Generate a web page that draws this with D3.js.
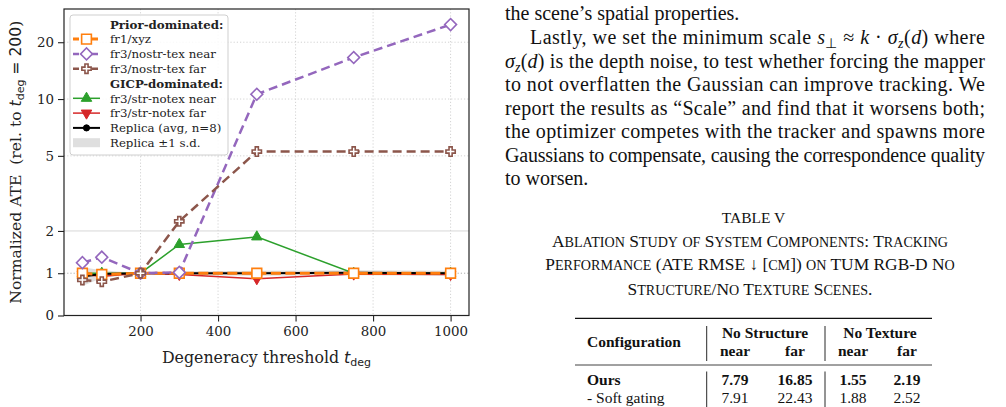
<!DOCTYPE html>
<html>
<head>
<meta charset="utf-8">
<script src="https://cdn.jsdelivr.net/npm/d3@7"></script>
<style>
  html, body { margin: 0; padding: 0; background: #fff; }
  svg { display: block; }
  .serif { font-family: "DejaVu Serif", serif; }
  .times { font-family: "Liberation Serif", "Times New Roman", serif; fill: #111; }
</style>
</head>
<body>
<svg id="page" width="1006" height="407"></svg>
<script>

// ---- data ----
var thresholds = [50, 100, 200, 300, 500, 750, 1000];
var xyz        = [1.00, 0.97, 1.00, 1.00, 1.00, 1.00, 1.00];
var nostrNear  = [1.25, 1.38, 1.00, 1.02, 10.6, 16.6, 24.8];
var nostrFar   = [0.84, 0.80, 1.00, 2.25, 5.27, 5.27, 5.27];
var strNear    = [1.00, 1.00, 1.00, 1.68, 1.86, 1.00, 1.00];
var strFar     = [0.97, 0.93, 1.00, 0.97, 0.87, 0.98, 0.97];
var replicaAvg = [0.92, 0.98, 1.00, 1.00, 1.00, 1.01, 1.00];
var replicaSd  = [0.22, 0.09, 0.00, 0.04, 0.06, 0.06, 0.06];

var xTicks = [200, 400, 600, 800, 1000];
var yTicks = [0, 1, 2, 5, 10, 20];

var svg = d3.select("#page");

// ---- scales ----
var margin = {left: 64, top: 9, right: 469, bottom: 315.5};

var x = d3.scaleLinear().domain([2.5, 1047.5]).range([margin.left, margin.right]);

// symlog-like: linear below 2, log above
var LINTHRESH = 2, LINSPAN = 0.448;
function symT(v){ return v <= LINTHRESH ? LINSPAN * v / LINTHRESH : LINSPAN + Math.log10(v / LINTHRESH); }
var yT = d3.scaleLinear().domain([0, symT(30)]).range([margin.bottom, margin.top]);
function y(v){ return yT(symT(v)); }

var chart = svg.append("g").attr("class", "serif");

// ---- grid ----
chart.selectAll(".vgrid").data(xTicks).enter().append("line")
  .attr("x1", function(d){ return x(d); }).attr("x2", function(d){ return x(d); })
  .attr("y1", margin.top).attr("y2", margin.bottom)
  .attr("stroke", "#c8c8c8").attr("stroke-width", 0.8).attr("stroke-dasharray", "1.2,2");

chart.selectAll(".hgrid").data([1, 5, 10, 20]).enter().append("line")
  .attr("x1", margin.left).attr("x2", margin.right)
  .attr("y1", function(d){ return y(d); }).attr("y2", function(d){ return y(d); })
  .attr("stroke", function(d){ return d == 1 ? "#999" : "#c8c8c8"; })
  .attr("stroke-width", 0.8).attr("stroke-dasharray", "1.2,2");

chart.append("line")
  .attr("x1", margin.left).attr("x2", margin.right)
  .attr("y1", y(2)).attr("y2", y(2))
  .attr("stroke", "#d4d4d4").attr("stroke-width", 0.9);

// ---- series ----
function pts(vals){
  return thresholds.map(function(t, i){ return {x: t, v: vals[i]}; });
}

var line = d3.line().x(function(d){ return x(d.x); }).y(function(d){ return y(d.v); });

var band = d3.area()
  .x(function(d, i){ return x(thresholds[i]); })
  .y0(function(d, i){ return y(replicaAvg[i] - replicaSd[i]); })
  .y1(function(d, i){ return y(replicaAvg[i] + replicaSd[i]); });

chart.append("path").datum(replicaAvg).attr("d", band)
  .attr("fill", "#b8b8b8").attr("fill-opacity", 0.45);

var series = [
  {name: "fr3/str-notex far",  vals: strFar,     color: "#d62728", width: 1.5, dash: null,  marker: "tridown"},
  {name: "fr3/str-notex near", vals: strNear,    color: "#2ca02c", width: 1.5, dash: null,  marker: "triup"},
  {name: "Replica (avg, n=8)", vals: replicaAvg, color: "#000",    width: 2,   dash: null,  marker: "circle"},
  {name: "fr1/xyz",            vals: xyz,        color: "#ff7f0e", width: 3,   dash: "10,4.5", marker: "square"},
  {name: "fr3/nostr-tex near", vals: nostrNear,  color: "#9467bd", width: 2.5, dash: "9,5", marker: "diamond"},
  {name: "fr3/nostr-tex far",  vals: nostrFar,   color: "#8c564b", width: 2.5, dash: "9,5", marker: "plus"}
];

function markerPath(kind){
  if (kind == "square")  return d3.symbol(d3.symbolSquare, 95)();
  if (kind == "diamond") return d3.symbol(d3.symbolSquare, 70)();
  if (kind == "plus")    return d3.symbol(d3.symbolCross, 48)();
  if (kind == "circle")  return d3.symbol(d3.symbolCircle, 30)();
  return d3.symbol(d3.symbolTriangle, 48)();
}
function markerRot(kind){
  if (kind == "diamond") return 45;
  if (kind == "tridown") return 180;
  return 0;
}
function markerFill(s){
  return (s.marker == "square" || s.marker == "diamond" || s.marker == "plus") ? "#fff" : s.color;
}
function drawMarker(g, s, cx, cy){
  g.append("path")
    .attr("d", markerPath(s.marker))
    .attr("transform", "translate(" + cx + "," + cy + ") rotate(" + markerRot(s.marker) + ")")
    .attr("fill", markerFill(s))
    .attr("stroke", s.color)
    .attr("stroke-width", s.marker == "circle" || s.marker.indexOf("tri") == 0 ? 1 : 1.6);
}

series.forEach(function(s){
  var g = chart.append("g");
  g.append("path").datum(pts(s.vals)).attr("d", line)
    .attr("fill", "none").attr("stroke", s.color).attr("stroke-width", s.width)
    .attr("stroke-dasharray", s.dash);
  pts(s.vals).forEach(function(p){ drawMarker(g, s, x(p.x), y(p.v)); });
});

// ---- frame + axes ----
chart.append("rect")
  .attr("x", margin.left).attr("y", margin.top)
  .attr("width", margin.right - margin.left).attr("height", margin.bottom - margin.top)
  .attr("fill", "none").attr("stroke", "#222").attr("stroke-width", 1.2);

var xAxis = chart.append("g").attr("transform", "translate(0," + margin.bottom + ")")
  .call(d3.axisBottom(x).tickValues(xTicks).tickSize(6).tickPadding(5).tickFormat(d3.format("d")));
var yAxis = chart.append("g").attr("transform", "translate(" + margin.left + ",0)")
  .call(d3.axisLeft(yT).tickValues(yTicks.map(symT)).tickSize(6).tickPadding(4)
    .tickFormat(function(d, i){ return yTicks[i]; }));

[xAxis, yAxis].forEach(function(a){
  a.attr("font-family", null);
  a.select(".domain").remove();
  a.selectAll("line").attr("stroke", "#222").attr("stroke-width", 1.1);
  a.selectAll("text").attr("font-family", "DejaVu Serif").attr("font-size", 13.4).attr("fill", "#222");
});

var xl = chart.append("text").attr("x", (margin.left + margin.right) / 2).attr("y", 363)
  .attr("text-anchor", "middle").attr("font-size", 15.8).attr("fill", "#222");
xl.append("tspan").text("Degeneracy threshold ");
xl.append("tspan").attr("font-family", "DejaVu Sans").attr("font-style", "italic").text("t");
xl.append("tspan").attr("font-family", "DejaVu Sans").attr("font-size", 11).attr("dy", 3).text("deg");

var yl = chart.append("text").attr("transform", "translate(21," + ((margin.top + margin.bottom) / 2) + ") rotate(-90)")
  .attr("text-anchor", "middle").attr("font-size", 15.6).attr("fill", "#222");
yl.append("tspan").text("Normalized ATE\u00a0\u00a0(rel. to ");
yl.append("tspan").attr("font-family", "DejaVu Sans").attr("font-style", "italic").text("t");
yl.append("tspan").attr("font-family", "DejaVu Sans").attr("font-size", 11).attr("dy", 3).text("deg");
yl.append("tspan").attr("font-family", "DejaVu Sans").attr("dy", -3).text(" = 200");
yl.append("tspan").text(")");

// ---- legend ----
var legendRows = [
  {head: "Prior-dominated:"},
  {ref: "fr1/xyz"},
  {ref: "fr3/nostr-tex near"},
  {ref: "fr3/nostr-tex far"},
  {head: "GICP-dominated:"},
  {ref: "fr3/str-notex near"},
  {ref: "fr3/str-notex far"},
  {ref: "Replica (avg, n=8)"},
  {band: "Replica \u00b11 s.d."}
];

var leg = chart.append("g");
leg.append("rect").attr("x", 70).attr("y", 15).attr("width", 158).attr("height", 140).attr("rx", 3)
  .attr("fill", "#fff").attr("fill-opacity", 0.85).attr("stroke", "#cfcfcf").attr("stroke-width", 1);

legendRows.forEach(function(r, i){
  var cy = 24.3 + i * 14.8;
  var t = leg.append("text").attr("x", 110).attr("y", cy + 4.2).attr("font-size", 11.8).attr("fill", "#222");
  if (r.head){
    t.attr("font-weight", "bold").text(r.head);
    return;
  }
  if (r.band){
    leg.append("rect").attr("x", 73).attr("y", cy - 4.5).attr("width", 27).attr("height", 9)
      .attr("fill", "#b8b8b8").attr("fill-opacity", 0.45);
    t.text(r.band);
    return;
  }
  var s = series.filter(function(d){ return d.name == r.ref; })[0];
  leg.append("line").attr("x1", 73).attr("x2", 100).attr("y1", cy).attr("y2", cy)
    .attr("stroke", s.color).attr("stroke-width", s.width)
    .attr("stroke-dasharray", s.dash ? "6,3.5" : null);
  drawMarker(leg, s, 86.5, cy);
  t.text(s.name);
});

// ---- right column: paragraph ----
var body = svg.append("g").attr("class", "times").attr("font-size", 20);

var paraLines = [
  {x: 505, y: 20, parts: [["the scene\u2019s spatial properties."]]},
  {x: 530, y: 44, w: 455, parts: [["Lastly, we set the minimum scale "], ["s", "i"], ["\u22a5", "sub"], [" \u2248 "], ["k", "i"], [" \u00b7 "], ["\u03c3", "i"], ["z", "isub"], ["("], ["d", "i"], [") where"]]},
  {x: 505, y: 67.5, w: 480, parts: [["\u03c3", "i"], ["z", "isub"], ["("], ["d", "i"], [") is the depth noise, to test whether forcing the mapper"]]},
  {x: 505, y: 91, w: 480, parts: [["to not overflatten the Gaussian can improve tracking. We"]]},
  {x: 505, y: 114.5, w: 480, parts: [["report the results as \u201cScale\u201d and find that it worsens both;"]]},
  {x: 505, y: 138, w: 480, parts: [["the optimizer competes with the tracker and spawns more"]]},
  {x: 505, y: 161.5, w: 480, parts: [["Gaussians to compensate, causing the correspondence quality"]]},
  {x: 505, y: 185, parts: [["to worsen."]]}
];

paraLines.forEach(function(l){
  var t = body.append("text").attr("x", l.x).attr("y", l.y);
  if (l.w) t.attr("textLength", l.w).attr("lengthAdjust", "spacing");
  var shifted = false;
  l.parts.forEach(function(p){
    var sp = t.append("tspan").text(p[0]);
    if (p[1] == "i") sp.attr("font-style", "italic");
    if (p[1] == "sub" || p[1] == "isub"){
      sp.attr("font-size", 14).attr("dy", 4);
      if (p[1] == "isub") sp.attr("font-style", "italic");
      shifted = true;
    } else if (shifted){
      sp.attr("dy", -4);
      shifted = false;
    }
  });
});

// ---- table caption (small caps built by hand) ----
function smallCaps(sel, str, big, small){
  var runs = str.match(/[a-z]+|[^a-z]+/g);
  runs.forEach(function(r){
    var lower = /[a-z]/.test(r[0]);
    sel.append("tspan").attr("font-size", lower ? small : big).text(lower ? r.toUpperCase() : r);
  });
}

var cap = svg.append("g").attr("class", "times").attr("text-anchor", "middle").attr("font-size", 15.5);
cap.append("text").attr("x", 753.5).attr("y", 223.3).text("TABLE V");
var capLines = [
  {y: 246.7, s: "Ablation Study of System Components: Tracking"},
  {y: 270,   s: "Performance (ATE RMSE \u2193 [cm]) on TUM RGB-D No"},
  {y: 294.5, s: "Structure/No Texture Scenes."}
];
capLines.forEach(function(c){
  smallCaps(cap.append("text").attr("x", 750).attr("y", c.y), c.s, 17.4, 14.1);
});

// ---- table ----
var colX = [735, 795, 853, 907];
var colHeads = ["near", "far", "near", "far"];
var groupHeads = [{label: "No Structure", x: 765}, {label: "No Texture", x: 880}];
var rowNames = ["Ours", "- Soft gating"];
var rowVals = [[7.79, 16.85, 1.55, 2.19], [7.91, 22.43, 1.88, 2.52]];
var rowY = [385, 402.7];

var tab = svg.append("g").attr("class", "times").attr("font-size", 15.5);
tab.append("line").attr("x1", 575).attr("x2", 932).attr("y1", 318.3).attr("y2", 318.3)
  .attr("stroke", "#111").attr("stroke-width", 1.3);
tab.append("line").attr("x1", 575).attr("x2", 932).attr("y1", 365).attr("y2", 365)
  .attr("stroke", "#111").attr("stroke-width", 0.8);
[706.7, 825].forEach(function(vx){
  tab.append("line").attr("x1", vx).attr("x2", vx).attr("y1", 326).attr("y2", 361).attr("stroke", "#111").attr("stroke-width", 0.9);
  tab.append("line").attr("x1", vx).attr("x2", vx).attr("y1", 371.5).attr("y2", 407).attr("stroke", "#111").attr("stroke-width", 0.9);
});

tab.append("text").attr("x", 587).attr("y", 347).attr("font-weight", "bold").text("Configuration");
tab.selectAll(".gh").data(groupHeads).enter().append("text")
  .attr("x", function(d){ return d.x; }).attr("y", 338).attr("text-anchor", "middle")
  .attr("font-weight", "bold").text(function(d){ return d.label; });
tab.selectAll(".ch").data(colHeads).enter().append("text")
  .attr("x", function(d, i){ return colX[i]; }).attr("y", 356).attr("text-anchor", "middle")
  .attr("font-weight", "bold").text(function(d){ return d; });

rowNames.forEach(function(n, r){
  tab.append("text").attr("x", 587).attr("y", rowY[r]).attr("font-weight", r == 0 ? "bold" : null).text(n);
  tab.selectAll(".v" + r).data(rowVals[r]).enter().append("text")
    .attr("x", function(d, i){ return colX[i]; }).attr("y", rowY[r]).attr("text-anchor", "middle")
    .attr("font-weight", r == 0 ? "bold" : null)
    .text(function(d){ return d.toFixed(2); });
});

</script>
</body>
</html>
